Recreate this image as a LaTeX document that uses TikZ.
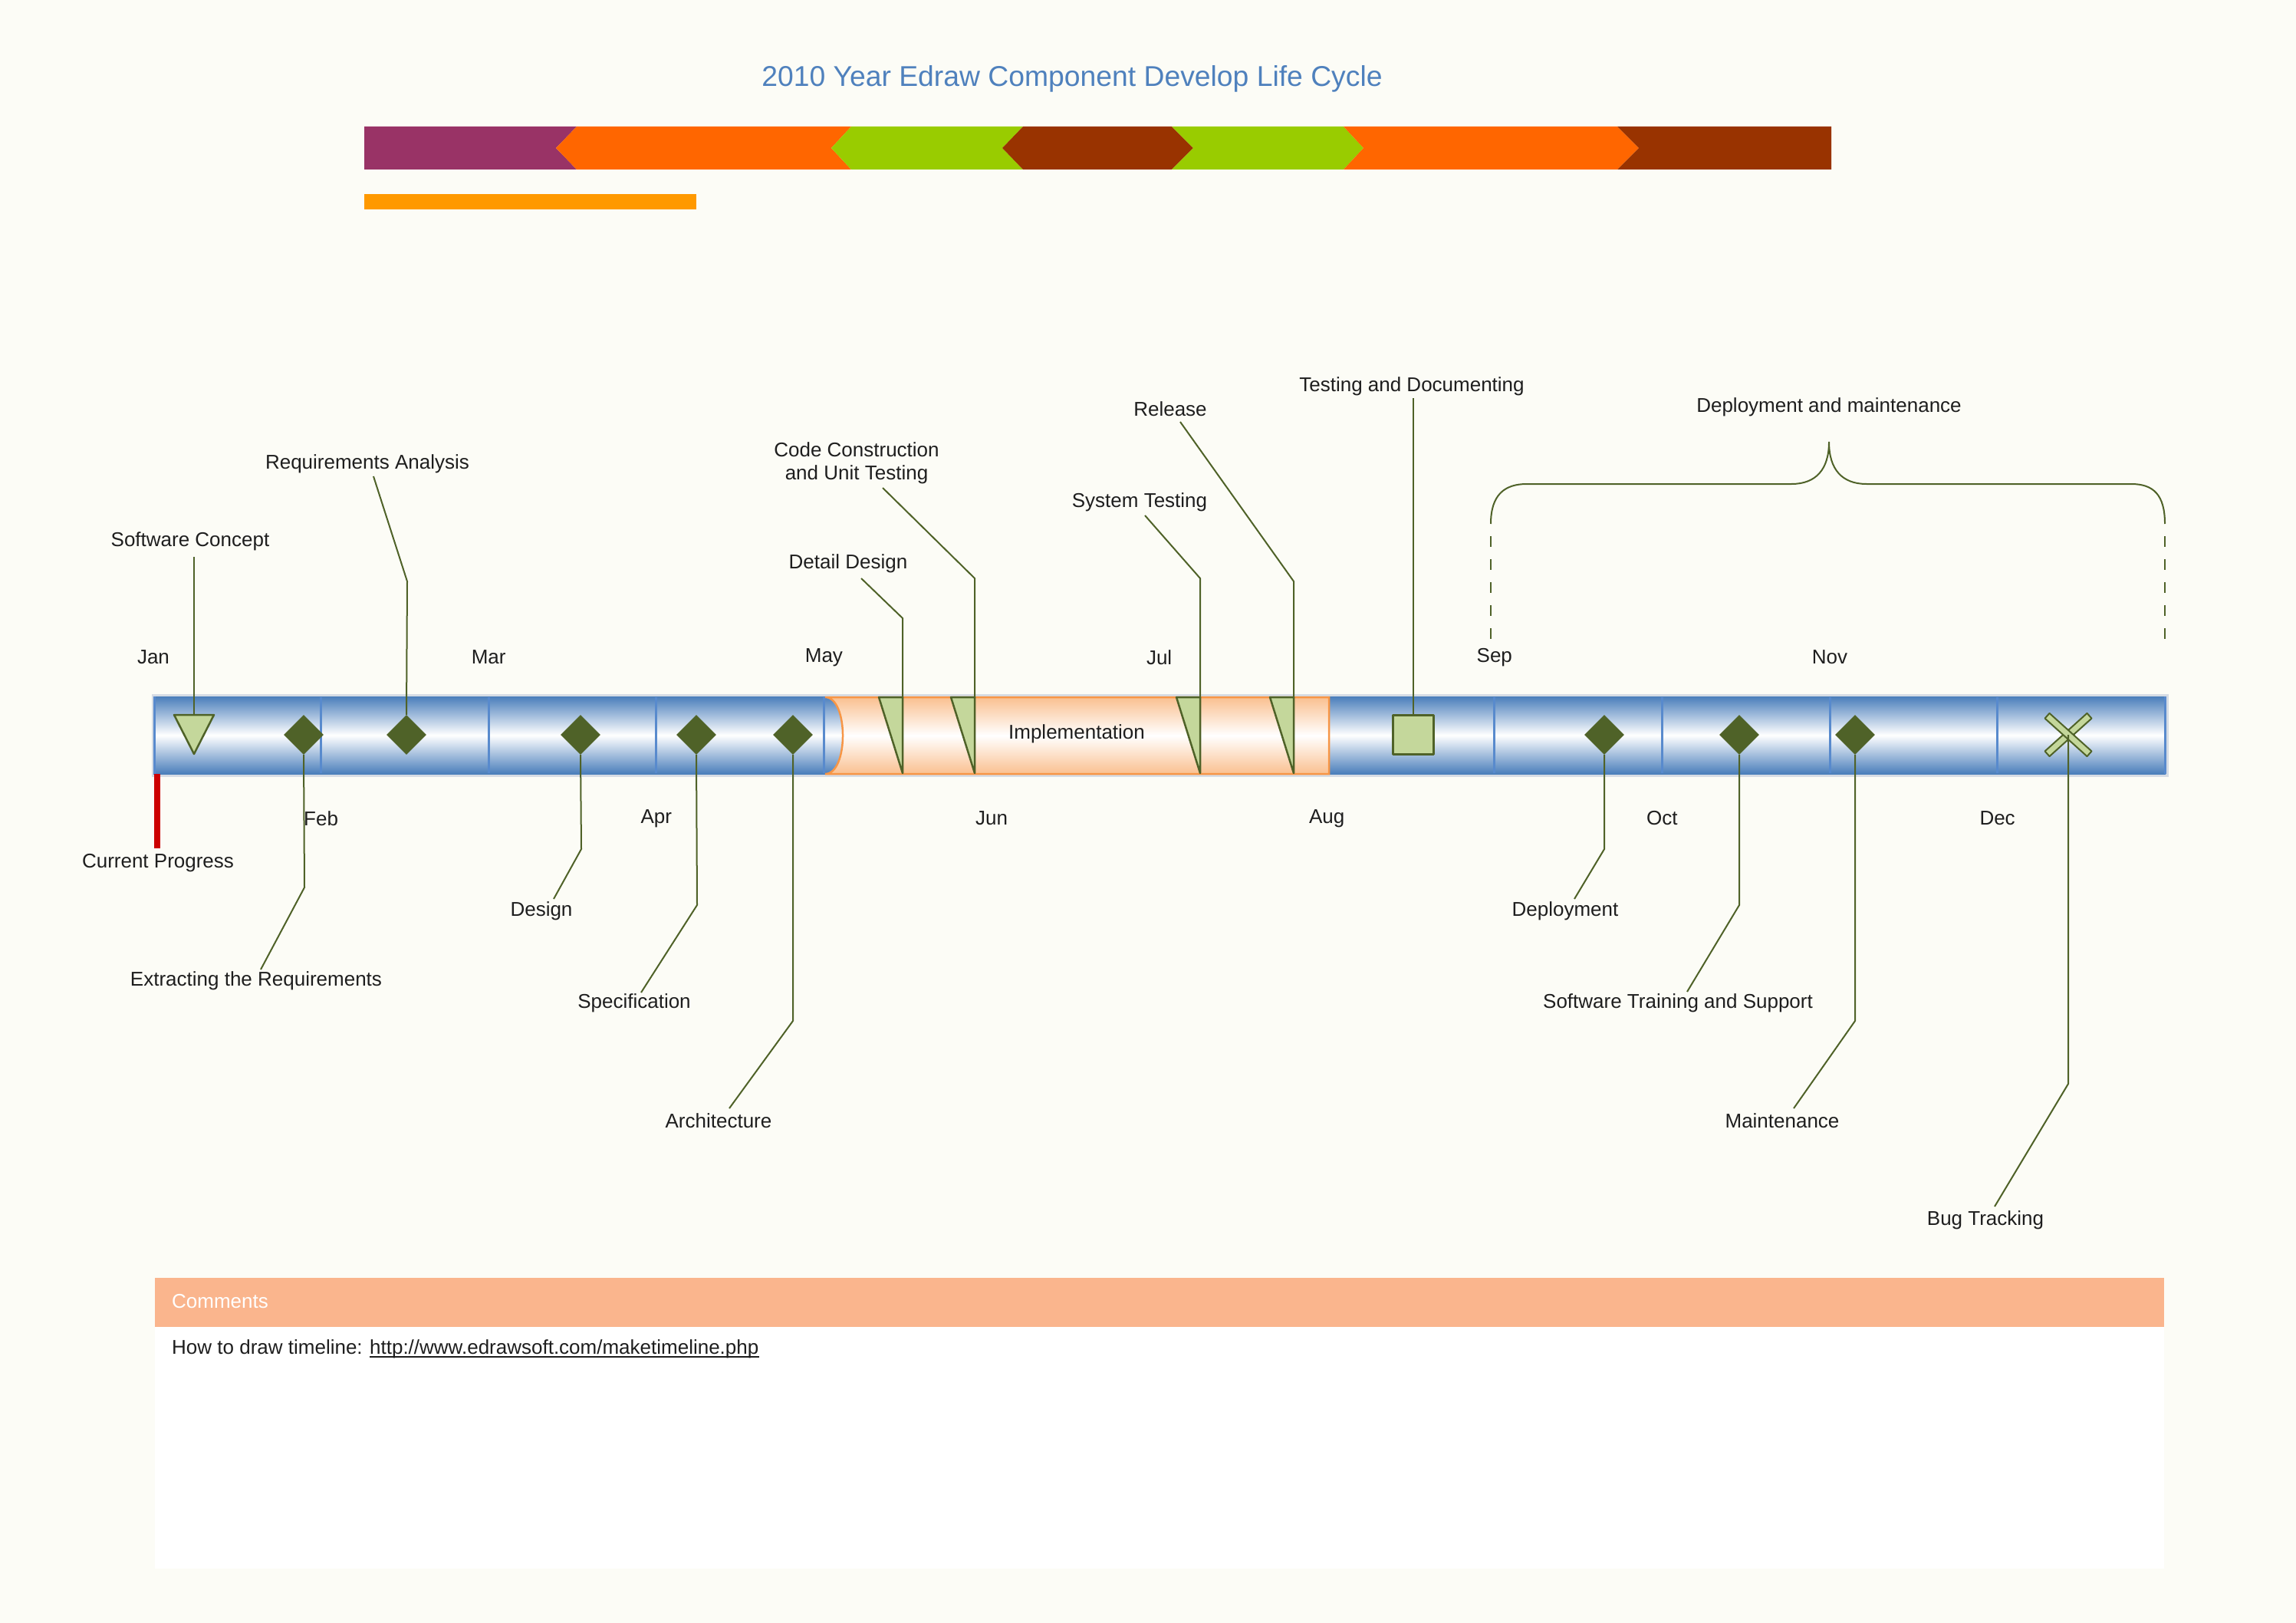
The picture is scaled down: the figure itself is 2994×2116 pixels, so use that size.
\documentclass[tikz,border=0pt]{standalone}
\usepackage{fontspec}
\setmainfont{Liberation Sans}
\usetikzlibrary{shapes.geometric}
\definecolor{bg}{RGB}{252,252,246}
\definecolor{olive}{RGB}{79,98,40}
\definecolor{lgreen}{RGB}{196,215,155}
\definecolor{barblue}{RGB}{74,126,187}
\definecolor{divblue}{RGB}{88,138,205}
\definecolor{peach}{RGB}{250,192,144}
\definecolor{orbord}{RGB}{247,150,70}
\definecolor{titleblue}{RGB}{79,129,189}
\definecolor{txt}{RGB}{30,30,30}
\definecolor{cpurple}{RGB}{153,51,102}
\definecolor{corange}{RGB}{255,102,0}
\definecolor{cgreen}{RGB}{153,204,0}
\definecolor{cbrown}{RGB}{153,51,0}
\definecolor{cyellow}{RGB}{255,153,0}
\definecolor{salmon}{RGB}{250,181,141}
\definecolor{cred}{RGB}{204,0,0}
\definecolor{shadowgray}{RGB}{214,220,228}
\begin{document}
\begin{tikzpicture}[x=1pt,y=-1pt,
  lab/.style={font=\fontsize{26}{30}\selectfont, text=txt, inner sep=0pt, align=center},
  leader/.style={draw=olive, line width=2pt},
  dia/.style={diamond, fill=olive, draw=none, minimum width=52pt, minimum height=52pt, inner sep=0pt},
  mk/.style={fill=lgreen, draw=olive, line width=2.5pt, line join=round},
  divider/.style={draw=divblue, line width=3pt}]
\useasboundingbox (0,0) rectangle (2994,2116);
\fill[bg] (0,0) rectangle (2994,2116);

% title
\node[font=\fontsize{37.3}{44}\selectfont, text=titleblue, inner sep=0pt] (title) at (1398,103) {2010 Year Edraw Component Develop Life Cycle};

% top phase bar
\fill[cpurple] (475,165) -- (752,165) -- (725,193) -- (752,221) -- (475,221) -- cycle;
\fill[corange] (752,165) -- (1110,165) -- (1084,193) -- (1110,221) -- (752,221) -- (725,193) -- cycle;
\fill[cgreen] (1110,165) -- (1334,165) -- (1307,193) -- (1334,221) -- (1110,221) -- (1084,193) -- cycle;
\fill[cbrown] (1334,165) -- (1528,165) -- (1556,193) -- (1528,221) -- (1334,221) -- (1307,193) -- cycle;
\fill[cgreen] (1528,165) -- (1752,165) -- (1778,193) -- (1752,221) -- (1528,221) -- (1556,193) -- cycle;
\fill[corange] (1752,165) -- (2109,165) -- (2137,193) -- (2109,221) -- (1752,221) -- (1778,193) -- cycle;
\fill[cbrown] (2109,165) -- (2388,165) -- (2388,221) -- (2109,221) -- (2137,193) -- cycle;
\fill[cyellow] (475,253) rectangle (908,273);

% timeline bar
\fill[shadowgray] (198,905) rectangle (2828,1013);
\shade[top color=barblue, bottom color=barblue, middle color=white] (200,908) rectangle (2824,1009);
\draw[divider] (201,908) -- (201,1009);
\draw[divider] (2823,908) -- (2823,1009);
\foreach \i in {1,2,3,4,8,9,10,11}
  \draw[divider] (200+218.6*\i,909) -- (200+218.6*\i,1008);

% implementation section
\shade[top color=peach, bottom color=peach, middle color=white, draw=orbord, line width=2.5pt]
  (1076,909) .. controls (1106.7,909) and (1106.7,1009) .. (1076,1009) -- (1733,1009) -- (1733,909) -- cycle;
\node[lab] (impl) at (1404,957) {Implementation};

% month labels
\foreach \n/\i/\yy in {Jan/0/857, Feb/1/1067, Mar/2/857, Apr/3/1067, May/4/857, Jun/5/1067,
  Jul/6/857, Aug/7/1067, Sep/8/857, Oct/9/1067, Nov/10/857, Dec/11/1067}
  \node[lab] (mon\n) at (200+218.6*\i,\yy) {\n};

% markers
\draw[mk] (227,932) -- (279,932) -- (253,983) -- cycle;
\coordinate (mSC) at (253,932);
\node[dia] (mETR) at (396,958) {};
\node[dia] (mRA) at (530,958) {};
\node[dia] (mDes) at (757,958) {};
\node[dia] (mSpec) at (908,958) {};
\node[dia] (mArch) at (1034,958) {};
\draw[mk] (1146,909) -- (1177,909) -- (1177,1008) -- cycle;
\coordinate (mDD) at (1177,909);
\draw[mk] (1240,909) -- (1271,909) -- (1271,1008) -- cycle;
\coordinate (mCC) at (1271,909);
\draw[mk] (1534,909) -- (1565,909) -- (1565,1008) -- cycle;
\coordinate (mST) at (1565,909);
\draw[mk] (1656,909) -- (1687,909) -- (1687,1008) -- cycle;
\coordinate (mRel) at (1687,909);
\node[mk, minimum width=53pt, minimum height=51pt, inner sep=0pt] (mTD) at (1843,958) {};
\node[dia] (mDep) at (2092,958) {};
\node[dia] (mSTS) at (2268,958) {};
\node[dia] (mMaint) at (2419,958) {};
\begin{scope}[shift={(2697,958)}, rotate=42]
  \draw[mk, line width=2pt] (-37,-4.5) rectangle (37,4.5);
\end{scope}
\begin{scope}[shift={(2697,958)}, rotate=-42]
  \draw[mk, line width=2pt] (-37,-4.5) rectangle (37,4.5);
\end{scope}
\node[inner sep=0pt, minimum size=52pt] (mBug) at (2697,958) {};

% current progress
\coordinate (cpT) at (205,1009);
\coordinate (cpB) at (205,1106);
\draw[cred, line width=7.5pt] (cpT) -- (cpB);
\node[lab] (lCP) at (206,1125) {Current Progress};

% labels
\node[lab] (lSC) at (248,706) {Software Concept};
\node[lab] (lRA) at (479,605) {Requirements Analysis};
\node[lab] (lETR) at (334,1279) {Extracting the Requirements};
\node[lab] (lDes) at (706,1188) {Design};
\node[lab] (lSpec) at (827,1308) {Specification};
\node[lab] (lArch) at (937,1461) {Architecture};
\node[lab] (lDD) at (1106,735) {Detail Design};
\node[lab] (lCC) at (1117,604) {Code Construction\\and Unit Testing};
\node[lab] (lST) at (1486,655) {System Testing};
\node[lab] (lRel) at (1526,533) {Release};
\node[lab] (lTD) at (1841,504) {Testing and Documenting};
\node[lab] (lDep) at (2041,1188) {Deployment};
\node[lab] (lSTS) at (2188,1308) {Software Training and Support};
\node[lab] (lMaint) at (2324,1461) {Maintenance};
\node[lab] (lBug) at (2589,1591) {Bug Tracking};
\node[lab] (lDM) at (2385,531) {Deployment and maintenance};

% leader end points near labels
\coordinate (eSC) at (253,726);
\coordinate (eRA) at (487,621);
\coordinate (eETR) at (340,1264);
\coordinate (eDes) at (722,1172);
\coordinate (eSpec) at (836,1294);
\coordinate (eArch) at (951,1445);
\coordinate (eDD) at (1123,754);
\coordinate (eCC) at (1151,636);
\coordinate (eST) at (1493,672);
\coordinate (eRel) at (1539,550);
\coordinate (eTD) at (1843,519);
\coordinate (eDep) at (2053,1172);
\coordinate (eSTS) at (2200,1293);
\coordinate (eMaint) at (2339,1445);
\coordinate (eBug) at (2601,1573);

% leaders
\draw[leader] (eSC) -- (mSC);
\draw[leader] (eRA) -- (531,758) -- (mRA.north);
\draw[leader] (mETR.south) -- (397,1157) -- (eETR);
\draw[leader] (mDes.south) -- (758,1107) -- (eDes);
\draw[leader] (mSpec.south) -- (909,1180) -- (eSpec);
\draw[leader] (mArch.south) -- (1034,1331) -- (eArch);
\draw[leader] (eDD) -- (1177,806) -- (mDD);
\draw[leader] (eCC) -- (1271,754) -- (mCC);
\draw[leader] (eST) -- (1565,754) -- (mST);
\draw[leader] (eRel) -- (1687,758) -- (mRel);
\draw[leader] (eTD) -- (mTD.north);
\draw[leader] (mDep.south) -- (2092,1107) -- (eDep);
\draw[leader] (mSTS.south) -- (2268,1180) -- (eSTS);
\draw[leader] (mMaint.south) -- (2419,1331) -- (eMaint);
\draw[leader] (mBug.center) -- (2697,1413) -- (eBug);

% brace
\coordinate (brL) at (1944,683);
\coordinate (brR) at (2823,683);
\coordinate (brTip) at (2385,576);
\draw[leader] (brL) .. controls (1944,645) and (1962,631) .. (1991,631) -- (2336,631)
  .. controls (2368,631) and (2385,612) .. (brTip)
  .. controls (2385,612) and (2402,631) .. (2434,631) -- (2779,631)
  .. controls (2808,631) and (2823,645) .. (brR);
\draw[leader, dash pattern=on 14pt off 16pt] (1944,699) -- (1944,833);
\draw[leader, dash pattern=on 14pt off 16pt] (2823,699) -- (2823,833);

% comments
\fill[salmon] (202,1666) rectangle (2822,1730);
\fill[white] (202,1730) rectangle (2822,2045);
\node[lab, text=white, anchor=west] (cmt) at (224,1697) {Comments};
\node[lab, anchor=base west] (how) at (224,1765) {How to draw timeline:};
\node[lab, anchor=base west] (url) at ([xshift=9pt]how.base east) {http://www.edrawsoft.com/maketimeline.php};
\draw[txt, line width=2pt] ([yshift=-4pt]url.base west) -- ([yshift=-4pt]url.base east);
\end{tikzpicture}
\end{document}
